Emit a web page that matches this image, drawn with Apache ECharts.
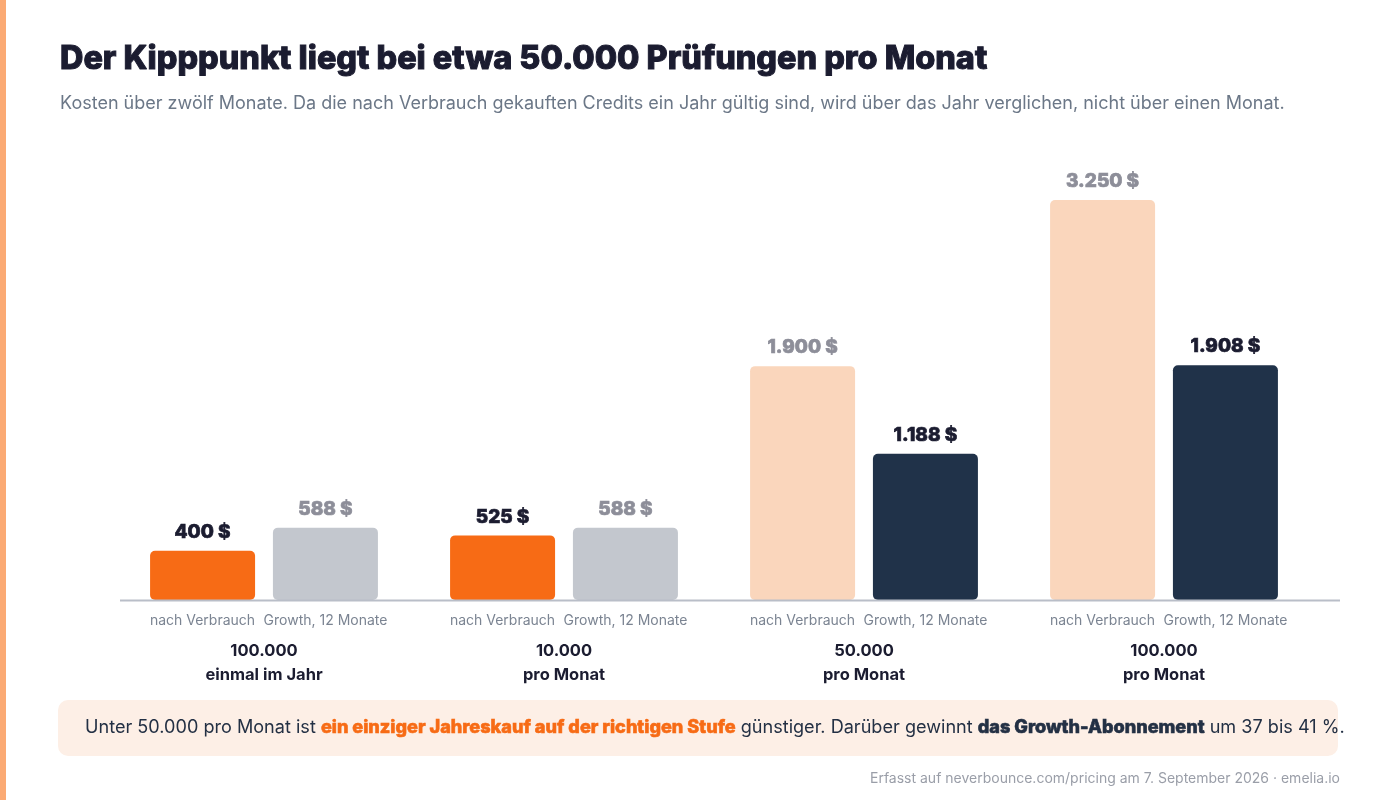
<!DOCTYPE html>
<html>
<head>
<meta charset="utf-8">
<script src="https://cdn.jsdelivr.net/npm/echarts@6/dist/echarts.min.js"></script>
<style>
  html, body { margin: 0; padding: 0; background: #fff; }
  #chart { width: 1400px; height: 800px; }
</style>
</head>
<body>
<div id="chart"></div>
<script>
// Daten
const volumes = ['100.000', '10.000', '50.000', '100.000'];
const periods = ['einmal im Jahr', 'pro Monat', 'pro Monat', 'pro Monat'];
const payAsYouGo = [400, 525, 1900, 3250];
const growth12 = [588, 588, 1188, 1908];
const barNames = ['nach Verbrauch', 'Growth, 12 Monate'];

const ORANGE = '#f76b15', PEACH = '#fad6bc', GREY = '#c3c7ce', NAVY = '#203249';
const DARK = '#1b1c30', MUTED = '#8d8e99';

const fmt = v => v.toLocaleString('de-DE') + ' $';

// Gewinner je Gruppe hervorheben
function styled(vals, other, colors) {
    return vals.map((v, i) => {
        let win = v < other[i];
        let c = win ? DARK : MUTED;
        return {
            value: v,
            itemStyle: {color: colors[i]},
            label: {color: c, textBorderColor: c, textBorderWidth: 0.7}
        };
    });
}
const payColors = payAsYouGo.map((v, i) => v < growth12[i] ? ORANGE : PEACH);
const growthColors = growth12.map((v, i) => v < payAsYouGo[i] ? NAVY : GREY);

const chart = echarts.init(document.getElementById('chart'));
const font = 'Inter, "Noto Sans", sans-serif';
const heavy = '"Inter ExtraBold", "Inter Black", Inter, "Noto Sans", sans-serif';

chart.setOption({
    textStyle: {fontFamily: font},
    animation: false,
    title: [{
        text: 'Der Kipppunkt liegt bei etwa 50.000 Prüfungen pro Monat',
        left: 55, top: 38,
        textStyle: {fontSize: 32.4, fontWeight: 900, color: DARK, fontFamily: heavy,
            textBorderColor: DARK, textBorderWidth: 1}
    }, {
        text: 'Kosten über zwölf Monate. Da die nach Verbrauch gekauften Credits ein Jahr gültig sind, wird über das Jahr verglichen, nicht über einen Monat.',
        left: 55, top: 90,
        textStyle: {fontSize: 18, fontWeight: 400, color: '#6b7787', fontFamily: font}
    }, {
        text: 'Erfasst auf neverbounce.com/pricing am 7. September 2026 · emelia.io',
        right: 55, top: 767,
        textStyle: {fontSize: 14, fontWeight: 400, color: '#9a9ea8', fontFamily: font}
    }],
    grid: {left: 114, right: 86, top: 200, bottom: 200},
    xAxis: {
        type: 'category',
        data: volumes,
        axisLine: {show: false},
        axisTick: {show: false},
        axisLabel: {
            interval: 0,
            margin: 9,
            formatter: (v, i) => '{s|' + barNames[0] + '}{s|' + barNames[1] + '}\n{b1|' + v + '}\n{b2|' + periods[i] + '}',
            rich: {
                s: {width: 123, align: 'center', fontSize: 14, color: '#7b8492', lineHeight: 24, fontFamily: font},
                b1: {fontSize: 16.5, fontWeight: 700, color: DARK, lineHeight: 37, fontFamily: font},
                b2: {fontSize: 16.5, fontWeight: 700, color: DARK, lineHeight: 10, fontFamily: font}
            }
        }
    },
    yAxis: {type: 'value', min: 0, max: 3250, show: false},
    series: [{
        name: barNames[0],
        type: 'bar',
        barWidth: 105,
        barGap: '17%',
        data: styled(payAsYouGo, growth12, payColors),
        itemStyle: {borderRadius: 5},
        label: {show: true, position: 'top', distance: 9, formatter: p => fmt(p.value),
            fontSize: 19, fontWeight: 900, fontFamily: heavy}
    }, {
        name: barNames[1],
        type: 'bar',
        barWidth: 105,
        barGap: '17%',
        data: styled(growth12, payAsYouGo, growthColors),
        itemStyle: {borderRadius: 5},
        label: {show: true, position: 'top', distance: 9, formatter: p => fmt(p.value),
            fontSize: 19, fontWeight: 900, fontFamily: heavy}
    }],
    graphic: [
        {type: 'rect', left: 0, top: 0, shape: {width: 6, height: 800}, style: {fill: '#fbaa74'}},
        {type: 'line', shape: {x1: 120, y1: 600.5, x2: 1340, y2: 600.5}, style: {stroke: '#b9bec8', lineWidth: 2}, z: 10},
        {type: 'rect', shape: {x: 58, y: 700, width: 1280, height: 56, r: 10}, style: {fill: '#fdefe6'}},
        {
            type: 'text', left: 85, top: 718,
            style: {
                text: '{n|Unter 50.000 pro Monat ist }{o|ein einziger Jahreskauf auf der richtigen Stufe}{n| günstiger. Darüber gewinnt }{d|das Growth-Abonnement}{n| um 37 bis 41 %.}',
                rich: {
                    n: {fontSize: 18.1, fill: '#233044', fontFamily: font},
                    o: {fontSize: 18.1, fontWeight: 900, fill: ORANGE, fontFamily: heavy, stroke: ORANGE, lineWidth: 0.6},
                    d: {fontSize: 18.1, fontWeight: 900, fill: '#233044', fontFamily: heavy, stroke: '#233044', lineWidth: 0.6}
                }
            }
        }
    ]
});
</script>
</body>
</html>
